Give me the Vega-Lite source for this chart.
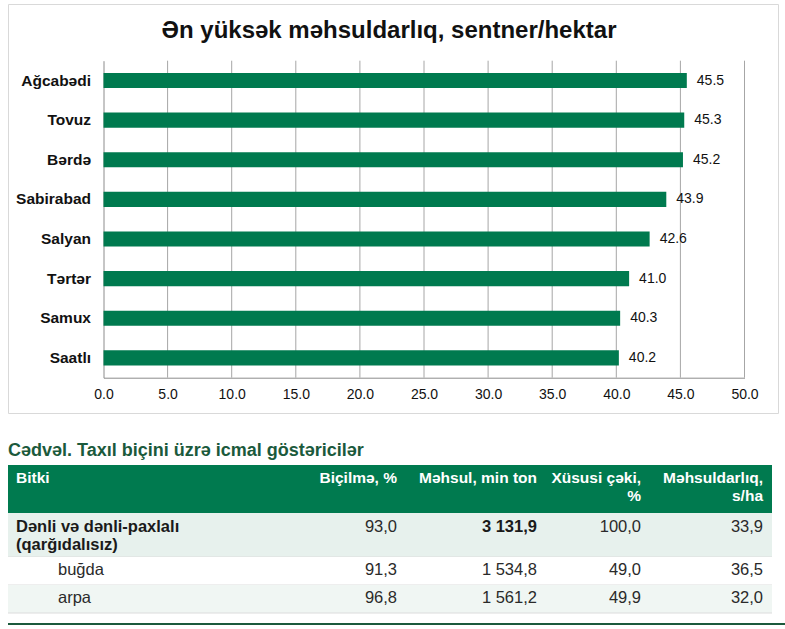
{
  "$schema": "https://vega.github.io/schema/vega-lite/v6.json",
  "padding": {"left": 7, "top": 3, "right": 0, "bottom": 0},
  "background": "white",
  "spacing": 28,
  "datasets": {
    "bars": [
      {"district": "Ağcabədi", "value": 45.5},
      {"district": "Tovuz", "value": 45.3},
      {"district": "Bərdə", "value": 45.2},
      {"district": "Sabirabad", "value": 43.9},
      {"district": "Salyan", "value": 42.6},
      {"district": "Tərtər", "value": 41.0},
      {"district": "Samux", "value": 40.3},
      {"district": "Saatlı", "value": 40.2}
    ],
    "grid": [
      {"tick": 5}, {"tick": 10}, {"tick": 15}, {"tick": 20}, {"tick": 25},
      {"tick": 30}, {"tick": 35}, {"tick": 40}, {"tick": 45}, {"tick": 50}
    ],
    "table": [
      {"row": "h", "ci": 0, "text": "Bitki"},
      {"row": "h", "ci": 1, "text": "Biçilmə, %"},
      {"row": "h", "ci": 2, "text": "Məhsul, min ton"},
      {"row": "h", "ci": 3, "text": "Xüsusi çəki,\n%"},
      {"row": "h", "ci": 4, "text": "Məhsuldarlıq,\ns/ha"},
      {"row": "r1", "ci": 0, "text": "Dənli və dənli-paxlalı\n(qarğıdalısız)"},
      {"row": "r1", "ci": 1, "text": "93,0"},
      {"row": "r1", "ci": 2, "text": "3 131,9"},
      {"row": "r1", "ci": 3, "text": "100,0"},
      {"row": "r1", "ci": 4, "text": "33,9"},
      {"row": "r2", "ci": 0, "text": "buğda"},
      {"row": "r2", "ci": 1, "text": "91,3"},
      {"row": "r2", "ci": 2, "text": "1 534,8"},
      {"row": "r2", "ci": 3, "text": "49,0"},
      {"row": "r2", "ci": 4, "text": "36,5"},
      {"row": "r3", "ci": 0, "text": "arpa"},
      {"row": "r3", "ci": 1, "text": "96,8"},
      {"row": "r3", "ci": 2, "text": "1 561,2"},
      {"row": "r3", "ci": 3, "text": "49,9"},
      {"row": "r3", "ci": 4, "text": "32,0"}
    ]
  },
  "vconcat": [
    {
      "width": 770,
      "height": 409,
      "view": {"stroke": "#d9d9d9", "strokeWidth": 1, "fill": "white"},
      "title": {
        "text": "Ən yüksək məhsuldarlıq, sentner/hektar",
        "font": "Liberation Sans", "fontSize": 24, "fontWeight": "bold", "color": "#111111",
        "anchor": "middle", "frame": "group", "baseline": "alphabetic", "offset": -58, "dx": -4
      },
      "layer": [
        {
          "data": {"name": "grid"},
          "mark": {"type": "rule", "color": "#a6a6a6", "strokeWidth": 1},
          "encoding": {
            "x": {"field": "tick", "type": "quantitative"},
            "y": {"datum": 0, "type": "quantitative", "scale": {"domain": [0, 1], "range": [373.7, 56.7]}, "axis": null},
            "y2": {"datum": 1}
          }
        },
        {
          "data": {"name": "bars"},
          "layer": [
            {
              "mark": {"type": "bar", "color": "#007A4F"},
              "encoding": {
                "x": {
                  "field": "value", "type": "quantitative",
                  "scale": {"domain": [0, 50], "range": [95.5, 736.5], "nice": false},
                  "axis": {
                    "title": null, "values": [0, 5, 10, 15, 20, 25, 30, 35, 40, 45, 50], "format": ".1f",
                    "grid": false, "ticks": false, "domain": true, "domainColor": "#8c8c8c",
                    "offset": -35.3, "labelPadding": 10, "labelFont": "Liberation Sans", "labelFontSize": 14,
                    "labelColor": "#111111", "labelFlush": false, "labelOverlap": false
                  }
                },
                "y": {
                  "field": "district", "type": "nominal", "sort": null,
                  "scale": {"range": [56.7, 373.7], "paddingInner": 0.62, "paddingOuter": 0.31},
                  "axis": {
                    "title": null, "ticks": false, "domain": true, "domainColor": "#8c8c8c",
                    "offset": -95.5, "labelPadding": 13, "labelFont": "Liberation Sans", "labelFontSize": 15.5,
                    "labelFontWeight": "bold", "labelColor": "#111111"
                  }
                }
              }
            },
            {
              "mark": {"type": "text", "align": "left", "baseline": "middle", "dx": 10, "font": "Liberation Sans", "fontSize": 14, "color": "#111111"},
              "encoding": {
                "x": {"field": "value", "type": "quantitative"},
                "y": {"field": "district", "type": "nominal", "sort": null},
                "text": {"field": "value", "type": "quantitative", "format": ".1f"}
              }
            }
          ]
        }
      ],
      "resolve": {"scale": {"y": "independent"}}
    },
    {
      "spacing": 0,
      "bounds": "flush",
      "vconcat": [
        {
          "width": 764,
          "height": 48,
          "view": {"fill": "#007A4F", "stroke": null},
          "title": {
            "text": "Cədvəl. Taxıl biçini üzrə icmal göstəricilər",
            "anchor": "start", "frame": "group", "font": "Liberation Sans", "fontSize": 18,
            "fontWeight": "bold", "color": "#1B5A3C", "baseline": "alphabetic", "offset": -9
          },
          "data": {"name": "table"},
          "transform": [{"filter": "datum.row === 'h'"}],
          "layer": [
            {
              "transform": [{"filter": "datum.ci === 0"}],
              "mark": {"type": "text", "align": "left", "baseline": "alphabetic", "dy": -6, "font": "Liberation Sans", "fontSize": 15.5, "fontWeight": "bold", "color": "white", "lineBreak": "\n", "lineHeight": 17.5},
              "encoding": {
                "x": {"field": "ci", "type": "quantitative", "scale": {"domain": [0, 1, 2, 3, 4], "range": [8, 389, 529, 633, 755], "nice": false, "zero": false}, "axis": null},
                "text": {"field": "text", "type": "nominal"}
              }
            },
            {
              "transform": [{"filter": "datum.ci > 0"}],
              "mark": {"type": "text", "align": "right", "baseline": "alphabetic", "dy": -6, "font": "Liberation Sans", "fontSize": 15.5, "fontWeight": "bold", "color": "white", "lineBreak": "\n", "lineHeight": 17.5},
              "encoding": {
                "x": {"field": "ci", "type": "quantitative", "scale": {"domain": [0, 1, 2, 3, 4], "range": [8, 389, 529, 633, 755], "nice": false, "zero": false}, "axis": null},
                "text": {"field": "text", "type": "nominal"}
              }
            }
          ]
        },
        {
          "width": 764,
          "height": 44,
          "view": {"fill": "#E7F1ED", "stroke": null},
          "layer": [
            {
              "data": {"name": "table"},
              "transform": [{"filter": "datum.row === 'r1' && datum.ci === 0"}],
              "mark": {"type": "text", "align": "left", "baseline": "alphabetic", "dy": -3, "font": "Liberation Sans", "fontSize": 16.5, "fontWeight": "bold", "color": "#1a1a1a", "lineBreak": "\n", "lineHeight": 18},
              "encoding": {
                "x": {"field": "ci", "type": "quantitative", "scale": {"domain": [0, 1, 2, 3, 4], "range": [8, 389, 529, 633, 755], "nice": false, "zero": false}, "axis": null},
                "text": {"field": "text", "type": "nominal"}
              }
            },
            {
              "data": {"name": "table"},
              "transform": [{"filter": "datum.row === 'r1' && datum.ci === 2"}],
              "mark": {"type": "text", "align": "right", "baseline": "alphabetic", "dy": -3, "font": "Liberation Sans", "fontSize": 16.5, "fontWeight": "bold", "color": "#1a1a1a"},
              "encoding": {
                "x": {"field": "ci", "type": "quantitative", "scale": {"domain": [0, 1, 2, 3, 4], "range": [8, 389, 529, 633, 755], "nice": false, "zero": false}, "axis": null},
                "text": {"field": "text", "type": "nominal"}
              }
            },
            {
              "data": {"name": "table"},
              "transform": [{"filter": "datum.row === 'r1' && datum.ci !== 0 && datum.ci !== 2"}],
              "mark": {"type": "text", "align": "right", "baseline": "alphabetic", "dy": -3, "font": "Liberation Sans", "fontSize": 16.5, "color": "#2a2a2a"},
              "encoding": {
                "x": {"field": "ci", "type": "quantitative", "scale": {"domain": [0, 1, 2, 3, 4], "range": [8, 389, 529, 633, 755], "nice": false, "zero": false}, "axis": null},
                "text": {"field": "text", "type": "nominal"}
              }
            },
            {
              "data": {"values": [{}]},
              "mark": {"type": "rule", "color": "#dcdcdc", "strokeWidth": 1},
              "encoding": {"y": {"datum": 0, "type": "quantitative", "scale": {"domain": [0, 1]}, "axis": null}}
            }
          ]
        },
        {
          "width": 764,
          "height": 28,
          "view": {"fill": "white", "stroke": null},
          "layer": [
            {
              "data": {"name": "table"},
              "transform": [{"filter": "datum.row === 'r2' && datum.ci === 0"}],
              "mark": {"type": "text", "align": "left", "baseline": "alphabetic", "dy": 4, "dx": 42, "font": "Liberation Sans", "fontSize": 16.5, "color": "#2a2a2a"},
              "encoding": {
                "x": {"field": "ci", "type": "quantitative", "scale": {"domain": [0, 1, 2, 3, 4], "range": [8, 389, 529, 633, 755], "nice": false, "zero": false}, "axis": null},
                "text": {"field": "text", "type": "nominal"}
              }
            },
            {
              "data": {"name": "table"},
              "transform": [{"filter": "datum.row === 'r2' && datum.ci > 0"}],
              "mark": {"type": "text", "align": "right", "baseline": "alphabetic", "dy": 4, "font": "Liberation Sans", "fontSize": 16.5, "color": "#2a2a2a"},
              "encoding": {
                "x": {"field": "ci", "type": "quantitative", "scale": {"domain": [0, 1, 2, 3, 4], "range": [8, 389, 529, 633, 755], "nice": false, "zero": false}, "axis": null},
                "text": {"field": "text", "type": "nominal"}
              }
            },
            {
              "data": {"values": [{}]},
              "mark": {"type": "rule", "color": "#dcdcdc", "strokeWidth": 1},
              "encoding": {"y": {"datum": 0, "type": "quantitative", "scale": {"domain": [0, 1]}, "axis": null}}
            }
          ]
        },
        {
          "width": 764,
          "height": 28,
          "view": {"fill": "#F0F6F3", "stroke": null},
          "layer": [
            {
              "data": {"name": "table"},
              "transform": [{"filter": "datum.row === 'r3' && datum.ci === 0"}],
              "mark": {"type": "text", "align": "left", "baseline": "alphabetic", "dy": 4, "dx": 42, "font": "Liberation Sans", "fontSize": 16.5, "color": "#2a2a2a"},
              "encoding": {
                "x": {"field": "ci", "type": "quantitative", "scale": {"domain": [0, 1, 2, 3, 4], "range": [8, 389, 529, 633, 755], "nice": false, "zero": false}, "axis": null},
                "text": {"field": "text", "type": "nominal"}
              }
            },
            {
              "data": {"name": "table"},
              "transform": [{"filter": "datum.row === 'r3' && datum.ci > 0"}],
              "mark": {"type": "text", "align": "right", "baseline": "alphabetic", "dy": 4, "font": "Liberation Sans", "fontSize": 16.5, "color": "#2a2a2a"},
              "encoding": {
                "x": {"field": "ci", "type": "quantitative", "scale": {"domain": [0, 1, 2, 3, 4], "range": [8, 389, 529, 633, 755], "nice": false, "zero": false}, "axis": null},
                "text": {"field": "text", "type": "nominal"}
              }
            },
            {
              "data": {"values": [{}]},
              "mark": {"type": "rule", "color": "#dcdcdc", "strokeWidth": 1},
              "encoding": {"y": {"datum": 0, "type": "quantitative", "scale": {"domain": [0, 1]}, "axis": null}}
            }
          ]
        },
        {
          "width": 777,
          "height": 11,
          "view": {"stroke": null},
          "data": {"values": [{}]},
          "mark": {"type": "rule", "color": "#1B5A3C", "strokeWidth": 2},
          "encoding": {"y": {"datum": 0, "type": "quantitative", "scale": {"domain": [0, 1]}, "axis": null}}
        }
      ]
    }
  ],
  "config": {
    "font": "Liberation Sans"
  }
}
